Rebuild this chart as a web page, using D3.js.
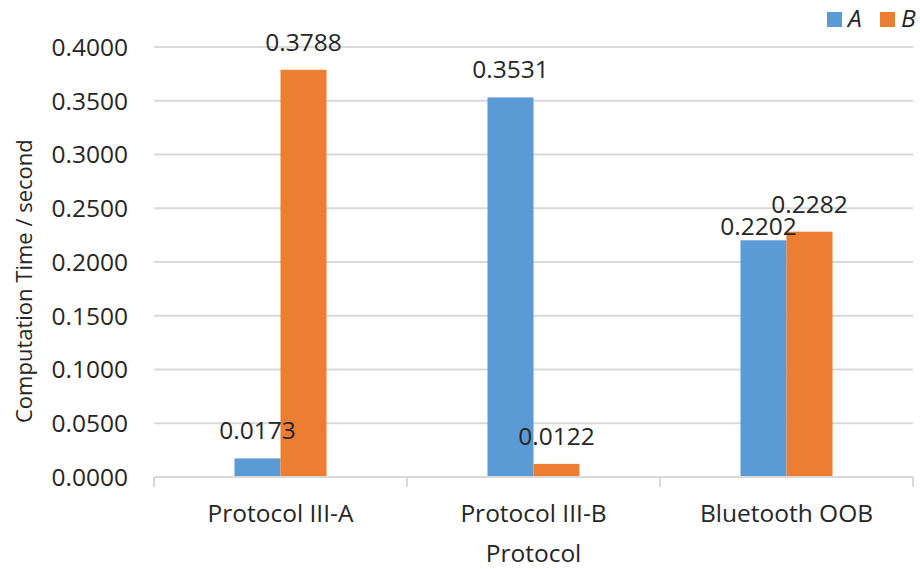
<!DOCTYPE html>
<html>
<head>
<meta charset="utf-8">
<script src="https://cdn.jsdelivr.net/npm/d3@7"></script>
<style>
  html, body { margin: 0; padding: 0; background: #fff; }
  svg { display: block; font-family: "Open Sans", "Noto Sans", sans-serif; }
</style>
</head>
<body>
<svg id="chart" width="920" height="569"></svg>
<script>
// Computation time per protocol, two series
const categories = ["Protocol III-A", "Protocol III-B", "Bluetooth OOB"];
const seriesNames = ["A", "B"];
const valuesA = [0.0173, 0.3531, 0.2202];
const valuesB = [0.3788, 0.0122, 0.2282];
const yTicks = [0, 0.05, 0.10, 0.15, 0.20, 0.25, 0.30, 0.35, 0.40];

const colors = { A: "#5b9bd5", B: "#ed7d31" };
const fontSize = 24.5;
const textColor = "#262626";
const gridColor = "#d9d9d9";

const margin = { left: 154, right: 7, top: 47, bottom: 92 };
const W = 920, H = 569;
const svg = d3.select("#chart");

const x0 = d3.scaleBand()
  .domain(categories)
  .range([margin.left, W - margin.right])
  .paddingInner(0).paddingOuter(0);

// group occupies band / (1 + gap width 175%)
const groupWidth = x0.bandwidth() / 2.75;
const x1 = d3.scaleBand()
  .domain(seriesNames)
  .range([0, groupWidth]);

const y = d3.scaleLinear()
  .domain([0, 0.4])
  .range([H - margin.bottom, margin.top]);

// horizontal gridlines
svg.append("g")
  .selectAll("line")
  .data(yTicks.filter(t => t > 0))
  .join("line")
  .attr("x1", margin.left)
  .attr("x2", W - margin.right)
  .attr("y1", d => y(d))
  .attr("y2", d => y(d))
  .attr("stroke", gridColor)
  .attr("stroke-width", 2);

// y axis tick labels
const yAxis = d3.axisLeft(y)
  .tickValues(yTicks)
  .tickFormat(d3.format(".4f"))
  .tickSize(0)
  .tickPadding(26);
const gy = svg.append("g")
  .attr("transform", `translate(${margin.left},0)`)
  .call(yAxis);
gy.select(".domain").remove();
gy.selectAll("text")
  .attr("font-size", fontSize)
  .attr("font-family", "Open Sans")
  .attr("fill", textColor)
  .attr("dy", "0.34em");

// bars
const data = categories.map((c, i) => ({
  category: c,
  items: [
    { key: "A", value: valuesA[i] },
    { key: "B", value: valuesB[i] }
  ]
}));

const groups = svg.append("g")
  .selectAll("g")
  .data(data)
  .join("g")
  .attr("transform", d => `translate(${x0(d.category) + (x0.bandwidth() - groupWidth) / 2},0)`);

groups.selectAll("rect")
  .data(d => d.items)
  .join("rect")
  .attr("x", d => x1(d.key))
  .attr("width", x1.bandwidth())
  .attr("y", d => y(d.value))
  .attr("height", d => y(0) - y(d.value))
  .attr("fill", d => colors[d.key]);

// value labels above bars; one nudged to sit beside its neighbour
const labelNudge = { "Bluetooth OOB|A": [-5, 14] };
const nudge = d => labelNudge[d.category + "|" + d.key] || [0, 0];
groups.selectAll("text")
  .data(d => d.items.map(it => ({ ...it, category: d.category })))
  .join("text")
  .attr("x", d => x1(d.key) + x1.bandwidth() / 2 + nudge(d)[0])
  .attr("y", d => y(d.value) - 19 + nudge(d)[1])
  .attr("text-anchor", "middle")
  .attr("font-size", fontSize)
  .attr("fill", textColor)
  .text(d => d3.format(".4f")(d.value));

// x axis baseline with category boundary ticks
const gx = svg.append("g")
  .attr("transform", `translate(0,${y(0)})`);
gx.append("line")
  .attr("x1", margin.left)
  .attr("x2", W - margin.right)
  .attr("stroke", gridColor)
  .attr("stroke-width", 2);
const bounds = categories.map(c => x0(c)).concat([W - margin.right]);
gx.selectAll("line.tick")
  .data(bounds)
  .join("line")
  .attr("class", "tick")
  .attr("x1", d => d).attr("x2", d => d)
  .attr("y1", 0).attr("y2", 10)
  .attr("stroke", gridColor)
  .attr("stroke-width", 2);
gx.selectAll("text")
  .data(categories)
  .join("text")
  .attr("x", d => x0(d) + x0.bandwidth() / 2)
  .attr("y", 45)
  .attr("text-anchor", "middle")
  .attr("font-size", fontSize)
  .attr("fill", textColor)
  .text(d => d);

// axis titles
svg.append("text")
  .attr("x", (margin.left + W - margin.right) / 2)
  .attr("y", 562)
  .attr("text-anchor", "middle")
  .attr("font-size", fontSize)
  .attr("fill", textColor)
  .text("Protocol");

svg.append("text")
  .attr("transform", "translate(32,423) rotate(-90)")
  .attr("text-anchor", "start")
  .attr("font-size", 22)
  .attr("fill", textColor)
  .text("Computation Time / second");

// legend
const legendX = [827, 880];
const legend = svg.append("g")
  .selectAll("g")
  .data(seriesNames)
  .join("g")
  .attr("transform", (d, i) => `translate(${legendX[i]},12)`);
legend.append("rect")
  .attr("width", 15).attr("height", 15)
  .attr("fill", d => colors[d]);
legend.append("text")
  .attr("x", 21)
  .attr("y", 15)
  .attr("font-size", fontSize)
  .attr("font-style", "italic")
  .attr("fill", textColor)
  .text(d => d);
</script>
</body>
</html>
